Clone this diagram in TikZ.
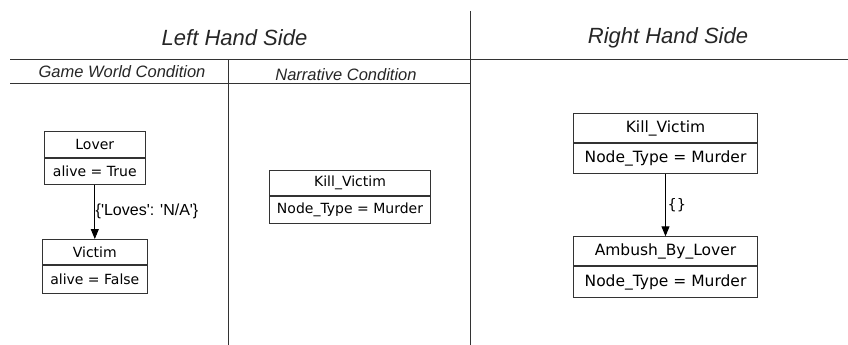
\documentclass[tikz,border=0pt]{standalone}
\usepackage{fontspec}
\setmainfont{Liberation Sans}
\newfontfamily\dejavu{DejaVu Sans}
\usetikzlibrary{arrows.meta}
\definecolor{linegray}{HTML}{333333}
\newcommand{\sq}{\textquotesingle}
\tikzset{
  rule/.style={draw=linegray, line width=0.9pt},
  heading/.style={font=\itshape\fontsize{22}{24}\selectfont, text=black!85, inner sep=0pt},
  subheading/.style={font=\itshape\fontsize{16.5}{18}\selectfont, text=black!85, inner sep=0pt},
  cell/.style={draw=linegray, line width=0.9pt, rectangle, inner sep=0pt, anchor=north},
  edge/.style={draw=black, line width=0.9pt, -{Triangle[length=10pt,width=8pt]}},
  elabel/.style={font=\fontsize{16}{18}\selectfont, inner sep=0pt, anchor=west},
  clabel/.style={font=\dejavu\fontsize{14.5}{17}\selectfont, inner sep=0pt, anchor=west},
}
\begin{document}
\begin{tikzpicture}[x=1pt,y=-1pt]
\useasboundingbox (0,0) rectangle (848,345);
% table frame
\coordinate (hl1) at (10,59.3);
\coordinate (hr1) at (848,59.3);
\coordinate (hl2) at (10,83.3);
\coordinate (hr2) at (470,83.3);
\coordinate (vt1) at (470,11);
\coordinate (vb1) at (470,345);
\coordinate (vt2) at (228.5,59.3);
\coordinate (vb2) at (228.5,345);
\draw[rule] (hl1) -- (hr1);
\draw[rule] (hl2) -- (hr2);
\draw[rule] (vt1) -- (vb1);
\draw[rule] (vt2) -- (vb2);
% headings
\node[heading] (lhs) at (234.5,38) {Left Hand Side};
\node[heading] (rhs) at (668,38) {Right Hand Side};
\node[subheading] (gwc) at (122,72) {Game World Condition};
\node[subheading] (nc) at (346,75) {Narrative Condition};
% Game world condition graph
\node[cell, minimum width=101.7pt, minimum height=25.7pt, font=\dejavu\fontsize{14}{16}\selectfont] (lover) at (94.8,131) {Lover};
\node[cell, minimum width=101.7pt, minimum height=26pt, font=\dejavu\fontsize{14}{16}\selectfont] (loverattr) at (lover.south) {alive = True};
\node[cell, minimum width=105pt, minimum height=25pt, font=\dejavu\fontsize{14}{16}\selectfont] (victim) at (94.8,239) {Victim};
\node[cell, minimum width=105pt, minimum height=27.7pt, font=\dejavu\fontsize{14}{16}\selectfont] (victimattr) at (victim.south) {alive = False};
\draw[edge] (loverattr.south) -- (victim.north);
\node[elabel] (loves) at (95.5,211.7) {\{\sq Loves\sq: \sq N/A\sq\}};
% Narrative condition
\node[cell, minimum width=161.4pt, minimum height=25pt, font=\dejavu\fontsize{14}{16}\selectfont] (kv1) at (350,170) {Kill\_Victim};
\node[cell, minimum width=161.4pt, minimum height=26.7pt, font=\dejavu\fontsize{14}{16}\selectfont] (kv1attr) at (kv1.south) {Node\_Type = Murder};
% Right hand side
\node[cell, minimum width=184.4pt, minimum height=29pt, font=\dejavu\fontsize{15.5}{17}\selectfont] (kv2) at (665.5,113.3) {Kill\_Victim};
\node[cell, minimum width=184.4pt, minimum height=29.4pt, font=\dejavu\fontsize{15.5}{17}\selectfont] (kv2attr) at (kv2.south) {Node\_Type = Murder};
\node[cell, minimum width=184.4pt, minimum height=29pt, font=\dejavu\fontsize{15.5}{17}\selectfont] (abl) at (665.5,236.3) {Ambush\_By\_Lover};
\node[cell, minimum width=184.4pt, minimum height=31pt, font=\dejavu\fontsize{15.5}{17}\selectfont] (ablattr) at (abl.south) {Node\_Type = Murder};
\draw[edge] (kv2attr.south) -- (abl.north);
\node[clabel] (empty) at (667.5,205) {\{\}};
\end{tikzpicture}
\end{document}
